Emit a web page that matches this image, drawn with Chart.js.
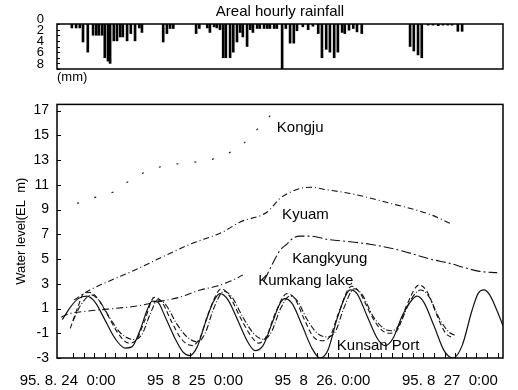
<!DOCTYPE html>
<html>
<head>
<meta charset="utf-8">
<script src="https://cdn.jsdelivr.net/npm/chart.js@4.4.0/dist/chart.umd.min.js"></script>
<style>
    body { margin: 0; background: #fff; }
    #wrap { position: relative; width: 518px; height: 390px; }
    #rainChart { position: absolute; left: 0; top: 0; }
    #levelChart { position: absolute; left: 0; top: 88px; }
</style>
</head>
<body>
<div id="wrap">
    <canvas id="rainChart" width="518" height="88"></canvas>
    <canvas id="levelChart" width="518" height="302"></canvas>
</div>
<script>
// x values are hours counted from 95.8.24 0:00
const dayTicks = [0, 24, 48, 72];
const dayLabels = ['95. 8. 24  0:00', '95  8  25  0:00', '95  8  26. 0:00', '95. 8  27  0:00'];
const levelTicks = [-3, -1, 1, 3, 5, 7, 9, 11, 13, 15, 17];
const rainTicks = [0, 1, 2, 3, 4, 5, 6, 7, 8];

// Areal hourly rainfall (mm)
const rainHours = [0.8, 1.6, 2.3, 2.9, 3.8, 4.8, 5.4, 5.9, 6.5, 7.0, 7.6, 8.0, 8.7, 9.3, 9.9, 10.4, 11.2, 11.9, 12.7, 13.5,
    14.0, 18.0, 18.7, 19.3, 19.9, 24.2, 24.8, 26.3, 26.8, 27.6, 28.1, 28.7, 29.3, 29.8, 30.6, 31.2, 31.9, 32.5, 33.0, 33.8,
    34.4, 34.9, 35.7, 36.2, 37.0, 37.6, 38.1, 38.9, 39.4, 40.4, 41.1, 41.9, 42.6, 43.2, 44.3, 45.3, 46.2, 47.2, 47.9, 48.7,
    49.4, 50.2, 50.9, 51.7, 52.2, 53.0, 53.8, 54.5, 55.4, 64.5, 65.2, 66.0, 66.7, 67.9, 68.8, 69.8, 70.7, 71.6, 72.4, 73.5, 74.3];
const rainMm = [0.7, 0.7, 0.7, 3.2, 5.0, 2.0, 2.0, 2.0, 2.0, 6.0, 6.6, 7.0, 3.0, 3.0, 2.3, 2.3, 3.0, 1.7, 3.0, 0.7,
    1.5, 3.2, 1.7, 0.8, 0.8, 1.7, 0.8, 0.7, 1.5, 0.5, 0.7, 1.0, 6.0, 6.0, 6.0, 5.0, 3.2, 1.5, 2.3, 4.0,
    1.0, 1.5, 0.8, 0.8, 0.8, 0.8, 0.8, 0.8, 0.8, 8.0, 0.8, 3.4, 3.4, 1.2, 0.5, 1.0, 0.4, 1.7, 6.0, 4.5,
    5.0, 6.0, 5.0, 1.5, 1.7, 1.1, 0.8, 1.4, 1.7, 4.0, 4.8, 5.5, 6.0, 0.2, 0.2, 0.3, 0.2, 0.2, 0.2, 1.3, 1.3];

// Water levels (EL m), [hour, level]
const kunsanPort = [[-1.0, 0.1], [0.5, 1.1], [2.0, 1.8], [3.6, 2.0], [5.2, 1.5], [7.0, 0.1], [8.9, -1.4], [10.8, -2.2],
    [12.1, -2.1], [13.6, -0.8], [15.0, 0.9], [15.9, 1.6], [17.0, 1.5], [18.3, 0.4], [20.2, -1.4], [21.7, -2.5],
    [23.0, -2.8], [24.4, -2.1], [25.9, -0.2], [27.4, 1.5], [28.7, 2.2], [30.2, 1.7], [32.1, 0.0], [33.8, -1.6],
    [35.3, -2.4], [36.8, -2.0], [38.5, -0.2], [40.0, 1.4], [40.9, 1.8], [42.3, 1.4], [44.2, -0.4], [46.0, -2.2],
    [47.5, -3.0], [49.0, -2.4], [50.7, 0.1], [52.2, 1.9], [53.2, 2.5], [54.5, 2.2], [56.4, 0.4], [58.3, -1.4],
    [59.8, -2.0], [61.3, -1.4], [63.0, 0.4], [64.5, 1.5], [65.8, 2.0], [67.1, 1.5], [69.0, -0.4], [70.9, -2.4],
    [72.6, -3.0], [74.3, -2.0], [76.2, 0.9], [77.3, 2.2], [78.4, 2.5], [79.5, 2.1], [80.9, 0.8], [82.0, -0.4]];
const tideDashed = [[0.5, -0.6], [2.0, 1.2], [3.0, 2.2], [4.2, 2.3], [5.5, 1.9], [7.5, 0.5], [9.5, -1.0], [11.5, -1.8],
    [13.0, -1.5], [14.5, 0.0], [16.3, 1.9], [17.8, 1.5], [19.5, 0.0], [21.5, -1.5], [23.5, -2.0], [25.0, -1.3],
    [26.5, 0.6], [29.0, 2.6], [30.5, 2.0], [32.5, 0.3], [34.5, -1.2], [36.0, -1.8], [37.5, -1.2], [39.0, 0.5],
    [41.3, 2.2], [42.8, 1.8], [44.5, 0.2], [46.3, -1.3], [48.0, -1.6], [49.5, -1.2], [51.0, 0.6], [53.5, 2.8],
    [55.0, 2.3], [57.0, 0.6], [58.8, -0.6], [60.5, -1.0], [62.0, -0.8], [63.8, 1.2], [66.2, 2.9], [67.8, 2.3],
    [69.5, 0.5], [71.2, -1.0], [72.8, -1.4]];
const tideDashDot = [[1.0, 0.0], [2.5, 1.3], [4.5, 2.1], [6.0, 1.6], [8.0, 0.2], [10.0, -1.0], [12.5, -1.5], [14.0, -1.1],
    [15.5, 0.5], [17.0, 1.7], [18.5, 1.3], [20.5, -0.2], [22.5, -1.3], [24.5, -1.7], [26.0, -0.9], [27.5, 1.0],
    [29.5, 2.4], [31.0, 1.9], [33.0, 0.3], [35.0, -1.0], [37.0, -1.5], [38.5, -0.8], [40.0, 0.9], [41.8, 2.0],
    [43.3, 1.6], [45.0, 0.2], [47.0, -1.0], [49.0, -1.3], [50.5, -0.8], [52.0, 1.0], [54.0, 2.6], [55.5, 2.1],
    [57.5, 0.4], [59.5, -0.6], [61.0, -0.8], [62.5, -0.3], [64.5, 1.6], [66.5, 2.5], [68.0, 2.0], [70.0, 0.2],
    [71.8, -0.9], [73.2, -1.2]];
const kumkangLake = [[-1.2, 0.3], [0.5, 0.6], [4.0, 0.8], [7.5, 0.95], [13.0, 1.2], [16.5, 1.5], [21.0, 1.9],
    [25.0, 2.5], [28.0, 2.8], [30.6, 3.2], [33.0, 3.7]];
const kangkyung = [[37.0, 3.25], [38.1, 4.2], [40.0, 5.7], [41.3, 6.2], [42.5, 6.7], [43.8, 6.85], [45.7, 6.85],
    [48.8, 6.6], [53.2, 6.4], [56.9, 6.2], [62.6, 5.7], [68.3, 5.0], [72.0, 4.65], [74.8, 4.3], [77.6, 4.0], [80.9, 3.9]];
const kyuam = [[1.2, 1.7], [4.2, 2.5], [8.0, 3.25], [12.1, 4.0], [18.0, 5.2], [23.1, 6.2], [29.3, 7.2], [32.5, 8.0],
    [37.6, 8.8], [40.0, 9.9], [43.8, 10.7], [45.7, 10.8], [48.8, 10.6], [53.2, 10.3], [62.6, 9.3], [68.3, 8.6], [72.4, 7.8]];
const kongju = [[1.8, 9.5], [4.5, 9.9], [8.5, 10.4], [13.0, 11.7], [18.8, 12.6], [20.8, 12.7], [28.3, 13.2],
    [33.0, 14.3], [36.8, 16.0], [38.7, 16.9], [40.5, 18.5]];

// Station names written next to their curves
const stationNames = [
    { text: 'Kongju', at: [39.4, 15.6] },
    { text: 'Kyuam', at: [40.4, 8.6] },
    { text: 'Kangkyung', at: [42.3, 5.0] },
    { text: 'Kumkang lake', at: [35.9, 3.2] },
    { text: 'Kunsan Port', at: [50.7, -2.0] }
];

const FONT = '"Liberation Sans", Arial, sans-serif';
const X_MIN = -2, X_MAX = 82;

function toPoints(pairs) {
    return pairs.map(p => ({ x: p[0], y: p[1] }));
}

// Box around the plot plus the small inward tick marks
const framePlugin = {
    id: 'frame',
    afterDraw(chart, args, opts) {
        const { ctx, chartArea: a } = chart;
        const x = chart.scales.x, y = chart.scales.y;
        ctx.save();
        ctx.strokeStyle = '#000';
        ctx.lineWidth = 1.5;
        ctx.strokeRect(a.left, a.top, a.right - a.left, a.bottom - a.top);
        ctx.lineWidth = 1;
        ctx.beginPath();
        y.ticks.forEach(t => {
            const py = Math.round(y.getPixelForValue(t.value)) + 0.5;
            ctx.moveTo(a.left, py);
            ctx.lineTo(a.left + opts.yTick, py);
        });
        if (opts.xStep) {
            for (let v = opts.xStart; v < X_MAX; v += opts.xStep) {
                const px = Math.round(x.getPixelForValue(v)) + 0.5;
                ctx.moveTo(px, a.bottom);
                ctx.lineTo(px, a.bottom - opts.xTick);
            }
        }
        ctx.stroke();
        ctx.restore();
    }
};

const namesPlugin = {
    id: 'names',
    afterDatasetsDraw(chart) {
        const { ctx } = chart;
        const x = chart.scales.x, y = chart.scales.y;
        ctx.save();
        ctx.fillStyle = '#000';
        ctx.font = '15px ' + FONT;
        ctx.textAlign = 'left';
        ctx.textBaseline = 'middle';
        stationNames.forEach(n => {
            ctx.fillText(n.text, x.getPixelForValue(n.at[0]), y.getPixelForValue(n.at[1]));
        });
        ctx.restore();
    }
};

function createRainChart() {
    const ctx = document.getElementById('rainChart').getContext('2d');
    new Chart(ctx, {
        type: 'bar',
        data: {
            datasets: [{
                data: rainHours.map((h, i) => ({ x: h, y: rainMm[i] })),
                backgroundColor: '#000',
                barThickness: 2
            }]
        },
        options: {
            responsive: false,
            animation: false,
            layout: { padding: { left: 0, right: 15, top: 0, bottom: 0 } },
            plugins: {
                legend: { display: false },
                tooltip: { enabled: false },
                title: {
                    display: true,
                    text: 'Areal hourly rainfall',
                    fullSize: false,
                    color: '#000',
                    font: { family: FONT, size: 15, weight: 'normal' },
                    padding: { top: 3, bottom: 3 }
                },
                frame: { yTick: 3, xStep: 0 }
            },
            scales: {
                x: {
                    type: 'linear',
                    min: X_MIN,
                    max: X_MAX,
                    offset: false,
                    grid: { display: false },
                    border: { display: false },
                    ticks: { display: false },
                    title: {
                        display: true,
                        text: '(mm)',
                        align: 'start',
                        color: '#000',
                        font: { family: FONT, size: 13 },
                        padding: { top: 0, bottom: 3 }
                    },
                    afterFit: scale => { scale.height = 19; }
                },
                y: {
                    reverse: true,
                    min: 0,
                    max: 8,
                    grid: { display: false },
                    border: { display: false },
                    afterBuildTicks: scale => { scale.ticks = rainTicks.map(v => ({ value: v })); },
                    ticks: {
                        autoSkip: false,
                        color: '#000',
                        padding: 5,
                        labelOffset: -5,
                        font: { family: FONT, size: 13 },
                        callback: value => (value % 2 === 0 ? value : '')
                    },
                    afterFit: scale => { scale.width = 57; }
                }
            }
        },
        plugins: [framePlugin]
    });
}

function lineSet(pairs, dash, width) {
    return {
        data: toPoints(pairs),
        borderColor: '#111',
        borderWidth: width || 1.1,
        borderDash: dash,
        pointRadius: 0,
        cubicInterpolationMode: 'monotone',
        fill: false
    };
}

function createLevelChart() {
    const ctx = document.getElementById('levelChart').getContext('2d');
    new Chart(ctx, {
        type: 'line',
        data: {
            datasets: [
                lineSet(kunsanPort, [], 1.2),
                lineSet(tideDashed, [5, 3]),
                lineSet(tideDashDot, [6, 2, 1, 2]),
                lineSet(kumkangLake, [7, 3, 1, 3]),
                lineSet(kangkyung, [10, 3, 2, 3]),
                lineSet(kyuam, [6, 3, 1, 3]),
                lineSet(kongju, [2, 16])
            ]
        },
        options: {
            responsive: false,
            animation: false,
            layout: { padding: { left: 0, right: 15, top: 9, bottom: 0 } },
            plugins: {
                legend: { display: false },
                tooltip: { enabled: false },
                frame: { yTick: 4, xStep: 2, xStart: 1, xTick: 5 }
            },
            scales: {
                x: {
                    type: 'linear',
                    min: X_MIN,
                    max: X_MAX,
                    grid: { display: false, drawTicks: false },
                    border: { display: false },
                    afterBuildTicks: scale => { scale.ticks = dayTicks.map(v => ({ value: v })); },
                    ticks: {
                        autoSkip: false,
                        maxRotation: 0,
                        color: '#000',
                        padding: 14,
                        font: { family: FONT, size: 15 },
                        callback: value => dayLabels[dayTicks.indexOf(value)]
                    },
                    afterFit: scale => { scale.height = 32; }
                },
                y: {
                    min: -3,
                    max: 17.5,
                    grid: { display: false, drawTicks: false },
                    border: { display: false },
                    afterBuildTicks: scale => { scale.ticks = levelTicks.map(v => ({ value: v })); },
                    ticks: {
                        autoSkip: false,
                        color: '#000',
                        padding: 8,
                        font: { family: FONT, size: 14 }
                    },
                    title: {
                        display: true,
                        text: 'Water level(EL  m)',
                        color: '#000',
                        font: { family: FONT, size: 13 },
                        padding: { top: 14, bottom: 0 }
                    },
                    afterFit: scale => { scale.width = 57; }
                }
            }
        },
        plugins: [framePlugin, namesPlugin]
    });
}

createRainChart();
createLevelChart();
</script>
</body>
</html>
